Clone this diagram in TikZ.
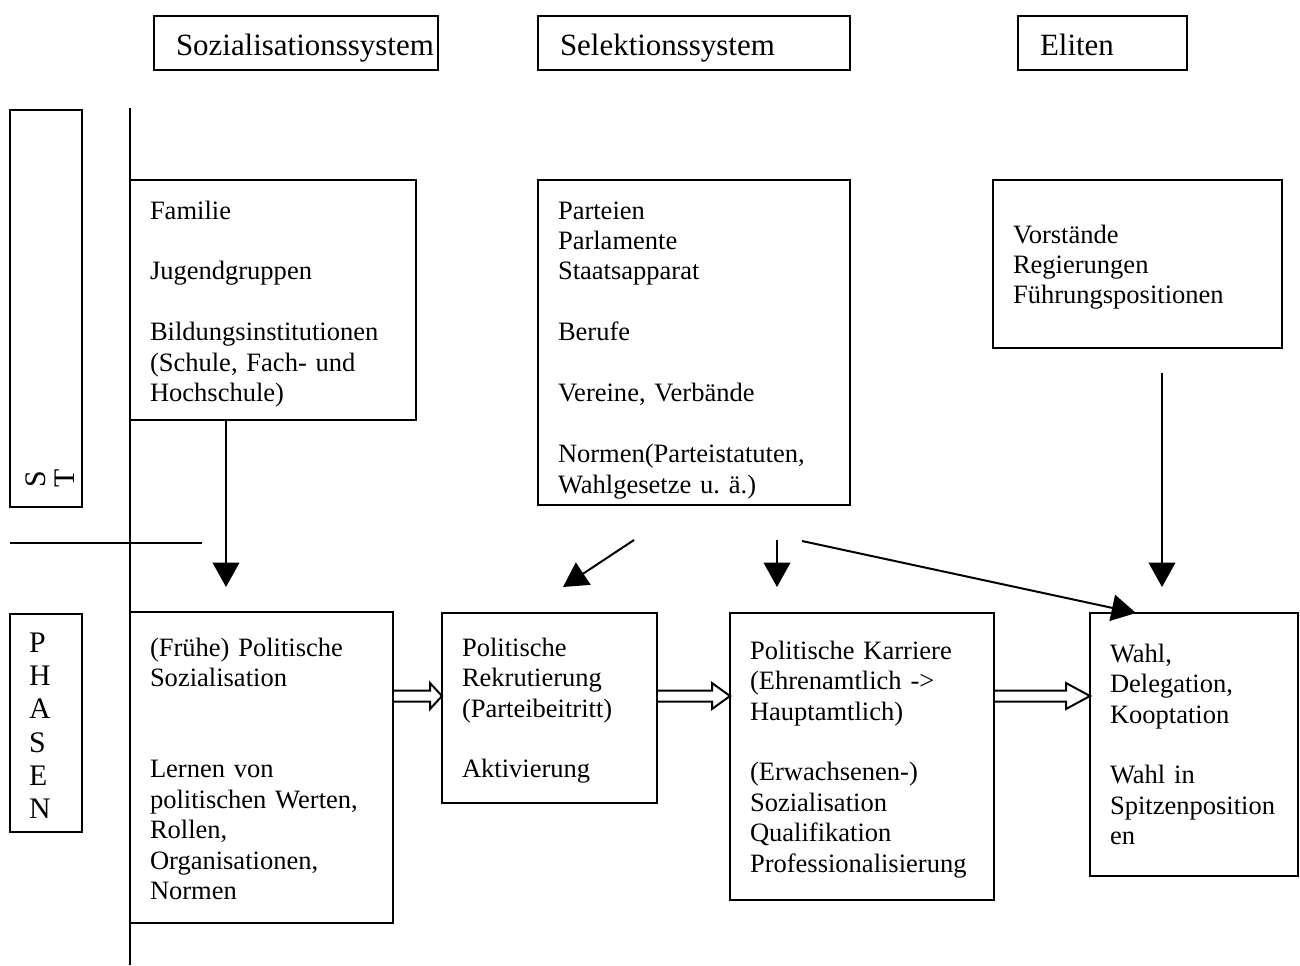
\documentclass[tikz,border=0pt]{standalone}
\usepackage{fontspec}
\setmainfont{Liberation Serif}
\usetikzlibrary{positioning, calc, arrows.meta}
\frenchspacing
\newdimen\pxu
\pxu=0.4525pt
\tikzset{
    kasten/.style={draw, line width=0.9pt, anchor=north west, inner xsep=20\pxu, inner ysep=0pt, outer sep=0pt, align=left, font=\fontsize{12}{13.8}\selectfont},
    kopf/.style={draw, line width=0.9pt, anchor=north west, inner xsep=22\pxu, inner ysep=0pt, outer sep=0pt, align=left, font=\fontsize{14}{16}\selectfont, text height=40\pxu, text depth=14\pxu},
    seite/.style={draw, line width=0.9pt, inner ysep=0pt, outer sep=0pt, align=left, font=\fontsize{13.5}{15.1}\selectfont},
    pfeil/.style={-{Triangle[length=11pt, width=12pt]}, line width=0.9pt},
    hohl/.style={line width=0.9pt, line join=miter},
    linie/.style={line width=0.9pt},
}
% Doppelpfeil (hohl): von, nach, Spitzenlaenge
\newcommand{\hohlpfeil}[3]{%
    \draw[hohl] ($(#1)+(0,-5.5)$) -- ($(#2)+(-#3,-5.5)$) -- ($(#2)+(-#3,-13)$) -- (#2)
        -- ($(#2)+(-#3,13)$) -- ($(#2)+(-#3,5.5)$) -- ($(#1)+(0,5.5)$);}

\begin{document}
\begin{tikzpicture}[x=0.4525pt, y=-0.4525pt]
    \useasboundingbox (0,0) rectangle (1300,965);

    % Kopfzeile
    \node[kopf, text width=240\pxu] (soz) at (154,16) {Sozialisationssystem};
    \node[kopf, text width=268\pxu] (sel) at (538,16) {Selektionssystem};
    \node[kopf, text width=125\pxu] (eli) at (1018,16) {Eliten};

    % Trennlinien
    \draw[linie] (130,108) -- (130,965);
    \draw[linie] (10,543) -- (202,543);

    % Seitenbeschriftung
    \node[seite, rotate=90, anchor=north west, inner xsep=20\pxu, text width=357\pxu, text height=36\pxu, text depth=36\pxu, font=\fontsize{13.5}{12.7}\selectfont] (struktur) at (10,507) {S\\T};
    \node[seite, anchor=north west, inner xsep=19\pxu, text width=34\pxu, text height=38\pxu, text depth=180\pxu] (phasen) at (10,614) {P\\H\\A\\S\\E\\N};

    % Strukturen
    \node[kasten, text width=246\pxu, text height=39\pxu, text depth=201\pxu] (familie) at (130,180)
        {Familie\\[\baselineskip]Jugendgruppen\\[\baselineskip]Bildungsinstitutionen\\(Schule, Fach- und\\Hochschule)};
    \node[kasten, text width=272\pxu, text height=39\pxu, text depth=286\pxu] (parteien) at (538,180)
        {Parteien\\Parlamente\\Staatsapparat\\[\baselineskip]Berufe\\[\baselineskip]Vereine, Verbände\\[\baselineskip]Normen(Parteistatuten,\\Wahlgesetze u. ä.)};
    \node[kasten, text width=249\pxu, text height=63\pxu, text depth=105\pxu] (vorst) at (993,180)
        {Vorstände\\Regierungen\\Führungspositionen};

    % Phasen
    \node[kasten, text width=223\pxu, text height=44\pxu, text depth=267\pxu] (frueh) at (130,612)
        {(Frühe) Politische\\Sozialisation\\[2\baselineskip]Lernen von\\politischen Werten,\\Rollen,\\Organisationen,\\Normen};
    \node[kasten, text width=175\pxu, text height=43\pxu, text depth=147\pxu] (rekr) at (442,613)
        {Politische\\Rekrutierung\\(Parteibeitritt)\\[\baselineskip]Aktivierung};
    \node[kasten, text width=224\pxu, text height=46\pxu, text depth=241\pxu] (karr) at (730,613)
        {Politische Karriere\\(Ehrenamtlich ->\\Hauptamtlich)\\[\baselineskip](Erwachsenen-)\\Sozialisation\\Qualifikation\\Professionalisierung};
    \node[kasten, text width=168\pxu, text height=49\pxu, text depth=214\pxu] (wahl) at (1090,613)
        {Wahl,\\Delegation,\\Kooptation\\[\baselineskip]Wahl in\\Spitzenposition\\en};

    % Pfeile von oben
    \coordinate (a1) at (226,587);
    \coordinate (p1) at (634,540);
    \coordinate (a2) at (563,587);
    \coordinate (p2) at (777,540);
    \coordinate (a3) at (777,587);
    \coordinate (p3) at (802,541);
    \coordinate (v1) at (1162,373);
    \coordinate (a4) at (1162,587);
    \draw[pfeil] (a1 |- familie.south) -- (a1);
    \draw[pfeil] (p1) -- (a2);
    \draw[pfeil] (p2) -- (a3);
    \draw[pfeil] (p3) -- ([xshift=46\pxu]wahl.north west);
    \draw[pfeil] (v1) -- (a4);

    % Doppelpfeile zwischen den Phasen
    \coordinate (ebene) at (0,696);
    \hohlpfeil{frueh.east |- ebene}{rekr.west |- ebene}{12}
    \hohlpfeil{rekr.east |- ebene}{karr.west |- ebene}{18}
    \hohlpfeil{karr.east |- ebene}{wahl.west |- ebene}{24}
\end{tikzpicture}
\end{document}
